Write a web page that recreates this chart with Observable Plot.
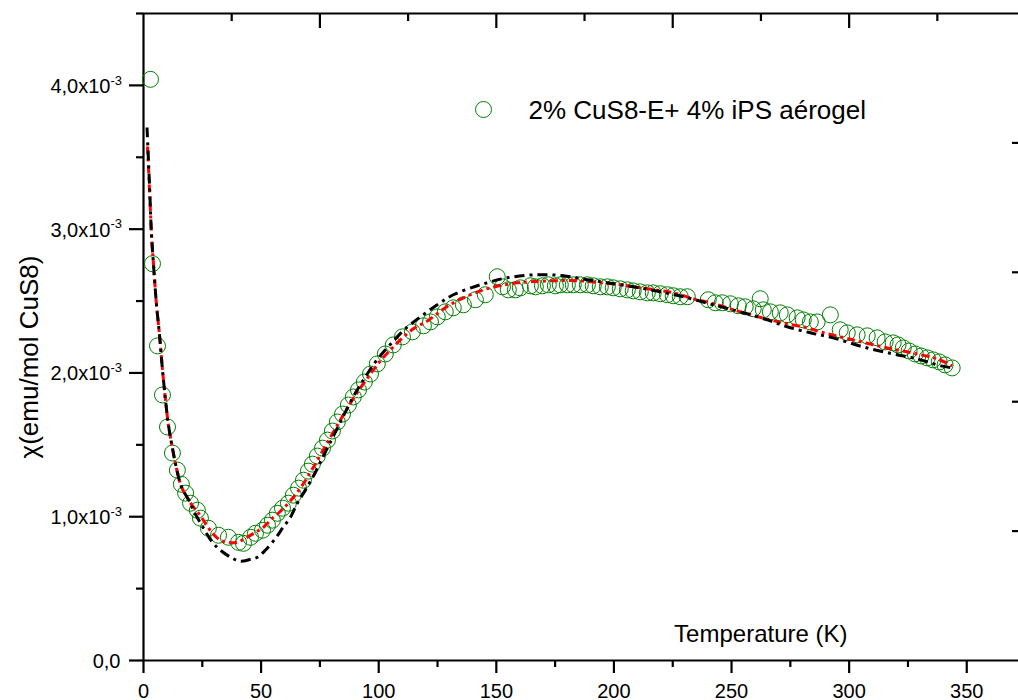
<!DOCTYPE html>
<html><head><meta charset="utf-8">
<script src="https://cdn.jsdelivr.net/npm/d3@7"></script>
<script src="https://cdn.jsdelivr.net/npm/@observablehq/plot@0.6"></script>
<style>html,body{margin:0;padding:0;background:#fff}svg{display:block}</style>
</head><body><div id="chart"></div>
<script>
// Measured susceptibility: [Temperature (K), chi (x10^-3 emu/mol CuS8)]
const measured = [[2.97,4.042],[3.82,2.760],[5.95,2.188],[8.07,1.847],[10.2,1.624],[12.3,1.443],[14.4,1.324],[16.1,1.226],[17.9,1.164],[20.0,1.094],[22.9,1.045],[24.2,0.990],[27.6,0.920],[31.9,0.871],[36.1,0.857],[40.4,0.822],[42.5,0.815],[45.5,0.857],[47.6,0.885],[50.6,0.906],[52.7,0.941],[54.8,0.976],[56.9,1.024],[59.1,1.059],[61.6,1.094],[63.7,1.150],[65.9,1.199],[68.0,1.254],[70.1,1.317],[71.8,1.366],[73.9,1.422],[76.1,1.477],[78.2,1.533],[80.3,1.596],[82.4,1.659],[84.6,1.714],[87.1,1.777],[89.2,1.833],[91.4,1.882],[93.9,1.937],[96.5,1.993],[99.4,2.063],[102.8,2.132],[106.2,2.195],[110.1,2.251],[114.3,2.286],[119.0,2.328],[122.0,2.355],[124.9,2.390],[128.3,2.425],[131.7,2.453],[136.0,2.474],[141.1,2.509],[145.3,2.544],[150.4,2.669],[152.6,2.599],[155.1,2.578],[158.1,2.578],[160.2,2.592],[164.5,2.606],[166.6,2.599],[169.6,2.606],[172.1,2.613],[175.1,2.606],[177.2,2.613],[180.2,2.613],[182.7,2.613],[185.7,2.613],[188.7,2.613],[191.2,2.606],[194.2,2.599],[197.2,2.599],[199.7,2.592],[202.7,2.585],[205.7,2.578],[208.2,2.571],[211.2,2.564],[214.2,2.557],[216.7,2.557],[219.7,2.551],[222.7,2.544],[225.2,2.537],[228.2,2.530],[231.2,2.530],[240.1,2.509],[243.1,2.488],[246.1,2.488],[249.5,2.481],[252.9,2.467],[255.8,2.460],[259.2,2.446],[262.2,2.516],[263.5,2.439],[266.5,2.425],[270.7,2.418],[273.7,2.404],[277.9,2.383],[280.5,2.369],[283.5,2.355],[286.4,2.355],[292.0,2.404],[296.2,2.300],[299.2,2.279],[303.4,2.265],[307.7,2.258],[311.9,2.244],[315.3,2.216],[318.7,2.209],[320.8,2.195],[323.0,2.174],[325.5,2.153],[328.1,2.132],[330.6,2.118],[333.2,2.105],[335.7,2.091],[338.3,2.077],[340.8,2.056],[343.8,2.035]];

// Red dash-dot fit curve
const fitRed = [[1.70,3.575],[2.55,3.275],[3.40,2.962],[4.25,2.753],[5.53,2.474],[6.80,2.265],[8.08,2.021],[9.35,1.812],[10.6,1.638],[12.3,1.477],[14.0,1.338],[16.2,1.206],[20.0,1.094],[23.4,1.024],[26.3,0.955],[29.3,0.885],[32.7,0.836],[36.1,0.822],[39.9,0.822],[43.3,0.850],[47.6,0.892],[51.0,0.927],[54.8,0.990],[58.2,1.038],[61.6,1.094],[66.7,1.199],[71.0,1.310],[75.2,1.429],[79.5,1.554],[83.7,1.672],[88.0,1.791],[92.2,1.895],[96.5,1.993],[100.7,2.084],[105.0,2.160],[109.2,2.230],[114.7,2.307],[120.7,2.362],[129.6,2.467],[139.0,2.544],[147.5,2.592],[158.9,2.627],[164.5,2.634],[174.2,2.641],[184.4,2.641],[194.2,2.627],[202.7,2.613],[214.2,2.585],[225.2,2.558],[233.7,2.516],[241.0,2.488],[253.7,2.425],[266.5,2.369],[273.7,2.342],[282.2,2.314],[287.7,2.286],[301.7,2.230],[316.2,2.174],[326.8,2.139],[337.4,2.098],[343.8,2.049]];

// Black dash-dot fit curve
const fitBlack = [[1.50,3.707],[2.55,3.310],[3.40,2.962],[4.25,2.753],[5.53,2.474],[6.80,2.265],[8.08,2.021],[9.35,1.812],[10.6,1.638],[12.3,1.477],[14.0,1.338],[16.2,1.206],[20.0,1.094],[21.2,1.045],[25.5,0.920],[29.3,0.822],[32.7,0.767],[37.8,0.711],[41.2,0.690],[45.5,0.704],[48.4,0.718],[51.8,0.767],[56.1,0.850],[59.1,0.920],[62.5,0.997],[65.4,1.094],[68.8,1.185],[73.1,1.310],[77.3,1.450],[81.6,1.589],[85.8,1.728],[90.1,1.861],[94.3,1.972],[98.6,2.077],[102.8,2.160],[107.1,2.237],[111.3,2.307],[117.7,2.390],[124.9,2.474],[131.7,2.544],[143.2,2.613],[154.7,2.662],[167.4,2.683],[178.5,2.676],[188.7,2.648],[197.2,2.627],[208.2,2.599],[219.7,2.565],[231.2,2.523],[242.2,2.474],[253.7,2.425],[265.2,2.369],[273.7,2.321],[283.5,2.279],[293.2,2.244],[306.0,2.181],[318.7,2.132],[328.9,2.098],[339.1,2.049],[343.8,2.035]];

const xMajor = [0, 50, 100, 150, 200, 250, 300, 350];
const xMinor = [25, 75, 125, 175, 225, 275, 325];
const topMajor = [75, 150, 225, 300];
const topMinor = [37.5, 112.5, 187.5, 262.5, 337.5];
const yMajor = [0, 1, 2, 3, 4];
const yMinor = [0.5, 1.5, 2.5, 3.5, 4.5];
const rightTicks = [0.9, 1.8, 2.7, 3.6];
const yTickText = ["0,0", "1,0x10", "2,0x10", "3,0x10", "4,0x10"];
const legendText = "2% CuS8-E+ 4% iPS aérogel";
const xTitle = "Temperature (K)";
const yTitle = "χ(emu/mol CuS8)";

const toObj = a => a.map(([T, chi]) => ({T, chi}));
const green = "#008000";

const chart = Plot.plot({
  width: 1018, height: 700,
  marginLeft: 143, marginRight: 0, marginTop: 13, marginBottom: 40,
  x: {domain: [0, 372]},
  y: {domain: [0, 4.5]},
  style: {fontFamily: '"Liberation Sans", Arial, sans-serif', fontSize: "20px", color: "black", background: "white", overflow: "visible"},
  marks: [
    Plot.ruleY([0, 4.5], {strokeWidth: 2.2}),
    Plot.ruleX([0], {strokeWidth: 2.2}),
    Plot.axisX({anchor: "bottom", ticks: xMajor, tickSize: 13, tickPadding: 10, fontSize: 20, strokeWidth: 2.2, label: null, tickFormat: d => String(d)}),
    Plot.axisX({anchor: "bottom", ticks: xMinor, tickSize: 7, strokeWidth: 2.2, label: null, tickFormat: () => ""}),
    Plot.axisX({anchor: "top", ticks: topMajor, tickSize: 14, dy: 14, strokeWidth: 2.2, label: null, tickFormat: () => ""}),
    Plot.axisX({anchor: "top", ticks: topMinor, tickSize: 7, dy: 7, strokeWidth: 2.2, label: null, tickFormat: () => ""}),
    Plot.axisY({anchor: "left", ticks: yMajor, tickSize: 14, strokeWidth: 2.2, label: null, tickFormat: () => ""}),
    Plot.axisY({anchor: "left", ticks: yMinor, tickSize: 7, strokeWidth: 2.2, label: null, tickFormat: () => ""}),
    Plot.axisY({anchor: "right", ticks: rightTicks, tickSize: 7, dx: -7, strokeWidth: 2.2, label: null, tickFormat: () => ""}),
    // y tick labels
    Plot.text(yMajor.slice(1), {y: d => d, text: d => yTickText[d], frameAnchor: "left", dx: -33, textAnchor: "end", lineAnchor: "middle", dy: 1, fontSize: 20}),
    Plot.text(yMajor.slice(1), {y: d => d, text: () => "-3", frameAnchor: "left", dx: -33, textAnchor: "start", lineAnchor: "middle", dy: -5, fontSize: 13}),
    Plot.text(yMajor.slice(0, 1), {y: d => d, text: d => yTickText[d], frameAnchor: "left", dx: -23, textAnchor: "end", lineAnchor: "middle", dy: 1, fontSize: 20}),
    // data
    Plot.dot(toObj(measured), {x: "T", y: "chi", r: 8, stroke: green, strokeWidth: 1, fill: "none"}),
    Plot.line(toObj(fitRed), {x: "T", y: "chi", stroke: "#ff0000", strokeWidth: 3, strokeLinecap: "butt", strokeDasharray: "8,4,3,4", curve: "catmull-rom"}),
    Plot.line(toObj(fitBlack), {x: "T", y: "chi", stroke: "#000000", strokeWidth: 3, strokeLinecap: "butt", strokeDasharray: "10,5,3,5", curve: "catmull-rom"}),
    // legend
    Plot.dot([legendText], {frameAnchor: "top-left", dx: 340, dy: 96, r: 8, stroke: green, strokeWidth: 1, fill: "none"}),
    Plot.text([legendText], {frameAnchor: "top-left", dx: 385, dy: 105, textAnchor: "start", lineAnchor: "bottom", fontSize: 26}),
    // titles
    Plot.text([xTitle], {frameAnchor: "bottom-right", dx: -171, dy: -19, textAnchor: "end", lineAnchor: "bottom", fontSize: 24}),
    Plot.text([yTitle], {frameAnchor: "left", rotate: -90, dx: -114, dy: 20, textAnchor: "middle", lineAnchor: "middle", fontSize: 26})
  ]
});
document.getElementById("chart").appendChild(chart);
</script>
</body></html>
